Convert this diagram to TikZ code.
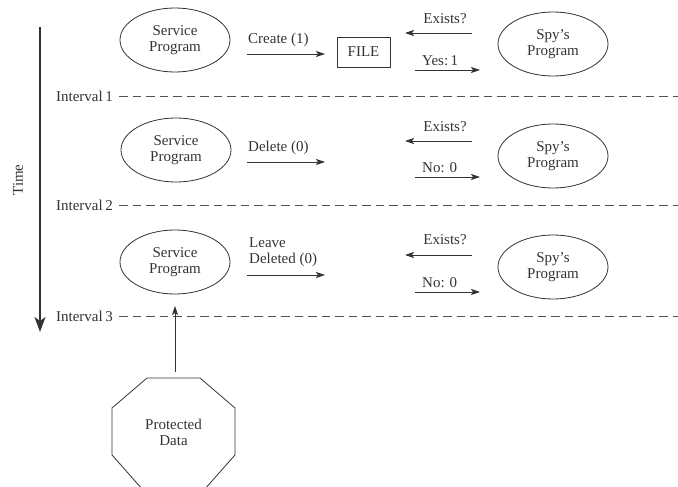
\documentclass[tikz,border=0pt]{standalone}
\usepackage{fontspec}
\setmainfont{Liberation Serif}
\usetikzlibrary{shapes.geometric,arrows.meta}

\definecolor{ink}{gray}{0.2}

\tikzset{
  prog/.style={ellipse, draw=ink, line width=0.8pt, minimum width=110pt,
    minimum height=64pt, inner sep=0pt, align=center, text=ink},
  txt/.style={inner sep=0pt, text=ink, align=left},
  flow/.style={draw=ink, line width=0.8pt, -{Stealth[length=9pt,width=6pt,inset=2pt]}},
  divider/.style={draw=ink!85, line width=0.9pt, dash pattern=on 8.5pt off 5pt},
  filebox/.style={draw=ink, line width=0.8pt, minimum width=53pt, minimum height=30pt,
    inner sep=0pt, text=ink}
}

\begin{document}
\begin{tikzpicture}[x=1pt, y=-1pt, font=\fontsize{15}{16}\selectfont]
\useasboundingbox (0,0) rectangle (678,487);

% time axis
\coordinate (t0) at (40,27);
\coordinate (t1) at (40,332);
\draw[draw=ink, line width=2pt, -{Stealth[length=15pt,width=11pt,inset=4pt]}] (t0) -- (t1);
\node[txt, rotate=90] (time) at (18,180) {Time};

% interval dividers
\foreach \i/\yy in {1/96, 2/205, 3/316} {
  \node[txt, anchor=east] (iv\i) at (113,\yy) {Interval\,\i};
  \coordinate (de\i) at (678,\yy);
  \draw[divider] (iv\i.east) ++(6,0) coordinate (ds\i) -- (de\i);
}

% ---- interval 1 ----
\node[prog] (sp1) at (175,40) {Service\\Program};
\node[prog] (spy1) at (553,44) {Spy's\\Program};
\node[filebox] (file) at (363.5,52) {FILE};
\node[txt, anchor=west] (create) at (248,40) {Create (1)};
\coordinate (c1a) at (247,54); \coordinate (c1b) at (325,54);
\draw[flow] (c1a) -- (c1b);
\node[txt] (ex1) at (445,19) {Exists?};
\coordinate (e1a) at (472,33); \coordinate (e1b) at (405,33);
\draw[flow] (e1a) -- (e1b);
\node[txt, anchor=west] (yes1) at (422,61) {Yes:\,1};
\coordinate (y1a) at (415,70); \coordinate (y1b) at (480,70);
\draw[flow] (y1a) -- (y1b);

% ---- interval 2 ----
\node[prog] (sp2) at (176,150) {Service\\Program};
\node[prog] (spy2) at (553,156) {Spy's\\Program};
\node[txt, anchor=west] (delete) at (248,148) {Delete (0)};
\coordinate (c2a) at (247,162); \coordinate (c2b) at (325,162);
\draw[flow] (c2a) -- (c2b);
\node[txt] (ex2) at (445,127) {Exists?};
\coordinate (e2a) at (472,141); \coordinate (e2b) at (405,141);
\draw[flow] (e2a) -- (e2b);
\node[txt, anchor=west] (no2) at (422,168) {No: 0};
\coordinate (n2a) at (415,177); \coordinate (n2b) at (480,177);
\draw[flow] (n2a) -- (n2b);

% ---- interval 3 ----
\node[prog] (sp3) at (175,262) {Service\\Program};
\node[prog] (spy3) at (553,267) {Spy's\\Program};
\node[txt, anchor=west] (leave) at (249,252) {Leave\\Deleted (0)};
\coordinate (c3a) at (247,275); \coordinate (c3b) at (325,275);
\draw[flow] (c3a) -- (c3b);
\node[txt] (ex3) at (445,240) {Exists?};
\coordinate (e3a) at (472,255); \coordinate (e3b) at (405,255);
\draw[flow] (e3a) -- (e3b);
\node[txt, anchor=west] (no3) at (422,283) {No: 0};
\coordinate (n3a) at (415,292); \coordinate (n3b) at (480,292);
\draw[flow] (n3a) -- (n3b);

% ---- protected data ----
\node[txt, align=center] (pd) at (173.5,432) {Protected\\Data};
\draw[draw=ink, line width=0.8pt]
  (147,378) -- (200,378) -- (235,408) -- (235,455) -- (204,490)
  -- (143,490) -- (112,455) -- (112,408) -- cycle;
\coordinate (pdtop) at (175,372);
\coordinate (pdtip) at (175,306);
\draw[flow] (pdtop) -- (pdtip);
\end{tikzpicture}
\end{document}
